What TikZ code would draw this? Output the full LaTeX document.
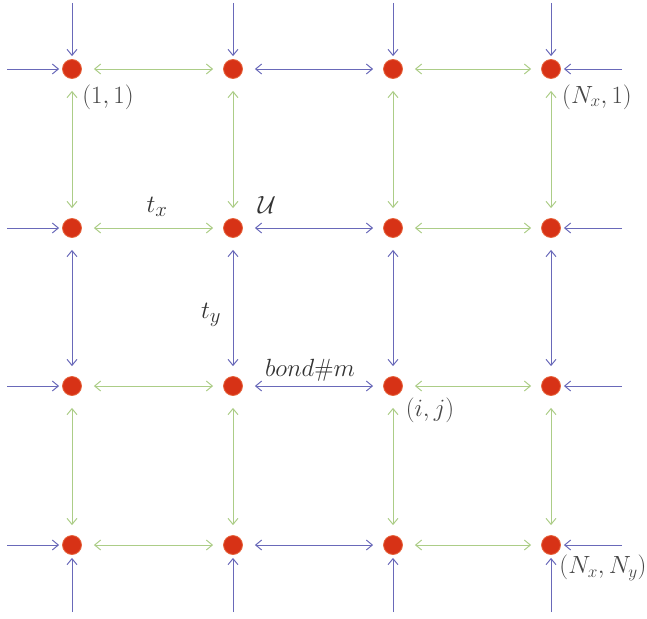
\documentclass[tikz,border=0pt]{standalone}
\usetikzlibrary{arrows.meta}
\definecolor{bl}{RGB}{105,105,185}
\definecolor{gr}{RGB}{172,205,135}
\definecolor{nodered}{RGB}{215,50,22}
\definecolor{nodeedge}{RGB}{230,100,60}
\definecolor{lab}{RGB}{70,70,70}
\begin{document}
\begin{tikzpicture}[x=1pt,y=-1pt,
  site/.style={circle,fill=nodered,draw=nodeedge,line width=0.8pt,minimum size=19pt,inner sep=0pt},
  tip/.style={-{Straight Barb[length=6pt,width=10pt]}},
  dtip/.style={{Straight Barb[length=6pt,width=10pt]}-{Straight Barb[length=6pt,width=10pt]}},
  bbond/.style={dtip,draw=bl,line width=1pt,shorten <=12pt,shorten >=10pt},
  gbond/.style={dtip,draw=gr,line width=1pt,shorten <=12pt,shorten >=10pt},
  inarrow/.style={tip,draw=bl,line width=1pt,shorten >=3pt},
  lbl/.style={text=lab,font=\fontsize{25}{28}\selectfont,inner sep=0pt},
  biglbl/.style={text=black!80,font=\fontsize{32}{36}\selectfont,inner sep=0pt}]
\useasboundingbox (0,0) rectangle (647,618);
\foreach \c/\x in {1/72,2/233,3/393,4/551}{
  \foreach \r/\y in {1/69,2/228,3/386,4/545}{
    \node[site] (n\c\r) at (\x,\y) {};
  }
}
% boundary coordinates
\foreach \c/\x in {1/72,2/233,3/393,4/551}{
  \coordinate (t\c) at (\x,3);
  \coordinate (b\c) at (\x,612);
}
\foreach \r/\y in {1/69,2/228,3/386,4/545}{
  \coordinate (l\r) at (7,\y);
  \coordinate (r\r) at (622,\y);
}
% incoming arrows
\foreach \i in {1,2,3,4}{
  \draw[inarrow] (t\i) -- (n\i1);
  \draw[inarrow] (b\i) -- (n\i4);
  \draw[inarrow] (l\i) -- (n1\i);
  \draw[inarrow] (r\i) -- (n4\i);
}
% horizontal bonds
\foreach \r in {1,2,3,4}{
  \draw[gbond] (n1\r) -- (n2\r);
  \draw[bbond] (n2\r) -- (n3\r);
  \draw[gbond] (n3\r) -- (n4\r);
}
% vertical bonds
\foreach \c in {1,2,3,4}{
  \draw[gbond] (n\c1) -- (n\c2);
  \draw[bbond] (n\c2) -- (n\c3);
  \draw[gbond] (n\c3) -- (n\c4);
}
% labels
\node[lbl] (L11) at (108,97) {$(1,1)$};
\node[lbl] (LN1) at (597,97) {$(N_x,1)$};
\node[lbl] (Lij) at (430,410) {$(i,j)$};
\node[lbl,font=\fontsize{24}{27}\selectfont] (LNN) at (603,568) {$(N_x,N_y)$};
\node[biglbl] (Ltx) at (157,207) {$t_x$};
\node[biglbl,font=\fontsize{38}{42}\selectfont] (LU) at (267,205) {$\mathcal{U}$};
\node[biglbl] (Lty) at (211,315) {$t_y$};
\node[lbl,text=black!80,font=\fontsize{29}{32}\selectfont] (Lb) at (310,370) {$bond\#m$};
\end{tikzpicture}
\end{document}
